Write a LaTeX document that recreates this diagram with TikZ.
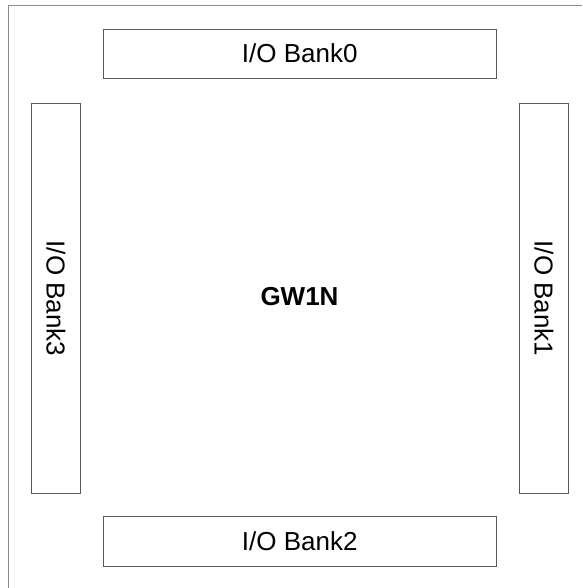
\documentclass[tikz,border=0pt]{standalone}
\usepackage{fontspec}
\setmainfont{Liberation Sans}

\begin{document}
\begin{tikzpicture}[x=1pt, y=-1pt]
			\tikzstyle{bank}=[draw=black!65, line width=0.9pt, inner sep=0pt, outer sep=0pt, font=\fontsize{26}{30}\selectfont]
			\newcommand\XMid{299.8}
			\newcommand\YMid{298.5}
			\newcommand\Ytop{53.7}
			\newcommand\Ybot{541.5}
			\newcommand\Xleft{55.8}
			\newcommand\Xright{544}

			\useasboundingbox (0,0) rectangle (582,588);

			% Frame
			\draw [black!45, line width=1pt] (8,588) -- (8,6) -- (582,6);

			% Banks
			\node [bank, minimum width=393pt, minimum height=48.7pt] at (\XMid,\Ytop) (b0) {I/O Bank0};
			\node [bank, minimum width=389.6pt, minimum height=49.4pt, rotate=-90] at (\Xright,\YMid) (b1) {I/O Bank1};
			\node [bank, minimum width=393pt, minimum height=49.3pt] at (\XMid,\Ybot) (b2) {I/O Bank2};
			\node [bank, minimum width=389.6pt, minimum height=49.7pt, rotate=-90] at (\Xleft,\YMid) (b3) {I/O Bank3};

			% Device
			\node [font=\bfseries\fontsize{26}{30}\selectfont] at (299.5,296.5) (dev) {GW1N};

		\end{tikzpicture}
\end{document}
